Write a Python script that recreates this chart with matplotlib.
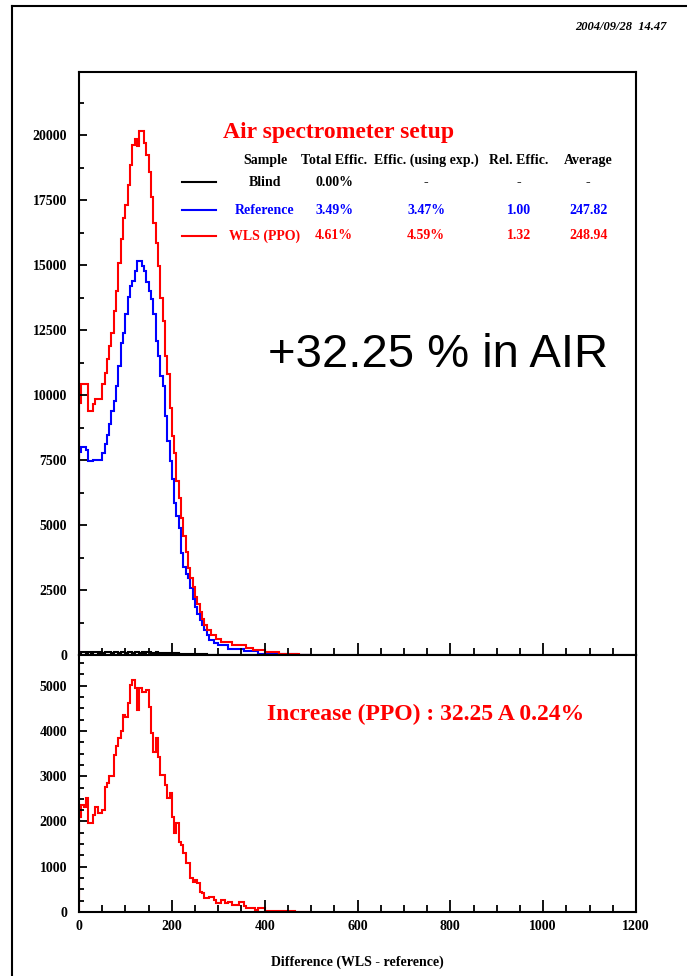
import numpy as np
import matplotlib
matplotlib.use("Agg")
from matplotlib import pyplot as plt
from matplotlib.lines import Line2D
from matplotlib.ticker import MultipleLocator

# histogram contents, bins of width 5 starting at 0
BIN_WIDTH = 5
NBINS = 100

reference = [7800, 8000, 8000, 7900, 7450, 7450, 7500, 7520, 7520, 7520,
             7770, 8100, 8480, 8870, 9380, 9770, 10350, 11120, 12020, 12400,
             13110, 13760, 14210, 14400, 14790, 15170, 15170, 14980, 14790, 14340,
             14010, 13710, 13110, 12085, 11500, 10730, 10350, 9190, 8220, 7450,
             6760, 5840, 5330, 4880, 3910, 3400, 3100, 2950, 2560, 2170,
             1850, 1590, 1340, 1150, 950, 760, 590, 590, 470, 470,
             370, 370, 370, 370, 240, 240, 240, 240, 240, 240,
             240, 140, 140, 140, 140, 140, 140, 50, 50, 50,
             50, 50, 50, 50, 50, 50, 20, 20, 20, 20,
             20, 20, 20, 20]

wls_ppo = [9700, 10420, 10420, 10420, 9400, 9400, 9650, 9850, 9850, 9850,
           10420, 10850, 11390, 11890, 12390, 13240, 14010, 15100, 16020, 16800,
           17300, 18070, 18840, 19610, 19850, 19570, 20150, 20150, 19690, 19230,
           18570, 17610, 16640, 15870, 14980, 13750, 12860, 11510, 10810, 9500,
           8420, 7770, 6680, 6030, 5260, 4560, 3980, 3330, 2950, 2630,
           2240, 1980, 1660, 1400, 1150, 950, 950, 760, 760, 630,
           630, 500, 500, 500, 500, 500, 370, 370, 370, 370,
           370, 370, 280, 280, 280, 180, 180, 180, 180, 180,
           120, 120, 120, 120, 120, 120, 50, 50, 50, 50,
           30, 30, 30, 30, 30]

blind = [90, 110, 100, 80, 120, 90, 100, 110, 80, 100,
         90, 120, 100, 110, 90, 100, 120, 80, 100, 110,
         90, 100, 120, 90, 110, 100, 80, 100, 90, 110,
         100, 80, 90, 100, 80, 90, 70, 80, 60, 70,
         60, 50, 60, 40, 50, 40, 30, 40, 30, 20,
         30, 20, 20, 10, 20, 10]

increase = [2110, 2370, 2330, 2520, 1960, 1960, 2150, 2330, 2180, 2180,
            2260, 2770, 2850, 3010, 3010, 3470, 3670, 3840, 3990, 4360,
            4320, 4610, 5020, 5130, 4950, 4470, 4950, 4870, 4870, 4910,
            4540, 3950, 3540, 3840, 3430, 3030, 3030, 2810, 2520, 2620,
            2110, 1740, 1960, 1550, 1480, 1300, 1090, 1090, 740, 670,
            700, 635, 450, 430, 300, 300, 340, 340, 265, 190,
            190, 265, 265, 190, 230, 230, 155, 155, 155, 230,
            230, 130, 95, 95, 95, 95, 44, 95, 95, 95,
            30, 30, 30, 30, 30, 30, 25, 25, 25, 25,
            25, 25, 25]

x_ticks = [0, 200, 400, 600, 800, 1000, 1200]

table_header = ["Sample", "Total Effic.", "Effic. (using exp.)", "Rel. Effic.", "Average"]
table_rows = [
    ("Blind", "0.00%", "-", "-", "-"),
    ("Reference", "3.49%", "3.47%", "1.00", "247.82"),
    ("WLS (PPO)", "4.61%", "4.59%", "1.32", "248.94"),
]
row_colors = ["black", "blue", "red"]


def padded(vals):
    return np.array(vals + [0] * (NBINS - len(vals)), dtype=float)


edges = np.arange(NBINS + 1) * BIN_WIDTH

plt.rcParams["font.family"] = ["Liberation Serif", "DejaVu Serif"]
plt.rcParams["font.weight"] = "bold"

fig = plt.figure(figsize=(6.87, 9.76), dpi=100)
ax1 = fig.add_axes([0.115, 0.3289, 0.8108, 0.5973])
ax2 = fig.add_axes([0.115, 0.0656, 0.8108, 0.2633])

ax1.stairs(padded(blind), edges, baseline=0, color="black", lw=1.5)
ax1.stairs(padded(reference), edges, baseline=0, color="blue", lw=1.5)
ax1.stairs(padded(wls_ppo), edges, baseline=0, color="red", lw=1.5)
ax2.stairs(padded(increase), edges, baseline=0, color="red", lw=1.5)

ax1.set_ylim(0, 22430)
ax2.set_ylim(0, 5680)
for ax in (ax1, ax2):
    ax.set_xlim(0, 1200)
    ax.xaxis.set_major_locator(MultipleLocator(200))
    ax.xaxis.set_minor_locator(MultipleLocator(50))
    ax.tick_params(axis="x", which="major", direction="in", length=8.5, width=1.3, pad=6)
    ax.tick_params(axis="x", which="minor", direction="in", length=5, width=1.3)
    ax.tick_params(axis="y", which="major", direction="in", length=6, width=1.3, pad=8.5)
    ax.tick_params(axis="y", which="minor", direction="in", length=3.6, width=1.3)
    ax.tick_params(top=False, right=False, labelsize=10)
    for s in ax.spines.values():
        s.set_linewidth(1.5)
ax1.yaxis.set_major_locator(MultipleLocator(2500))
ax1.yaxis.set_minor_locator(MultipleLocator(1250))
ax2.yaxis.set_major_locator(MultipleLocator(1000))
ax2.yaxis.set_minor_locator(MultipleLocator(250))
ax1.set_xticklabels([])
ax2.set_xticks(x_ticks)
ax2.set_xlabel("Difference (WLS - reference)", fontsize=10, fontweight="bold", labelpad=16)

# title and table
ax1.text(0.466, 0.897, "Air spectrometer setup", transform=ax1.transAxes, color="red",
         fontsize=17, fontweight="bold", ha="center", va="center")
col_x = [0.334, 0.458, 0.623, 0.790, 0.914]
row_y = [0.811, 0.763, 0.719]
for cx, h in zip(col_x, table_header):
    ax1.text(cx, 0.849, h, transform=ax1.transAxes, fontsize=10, fontweight="bold",
             ha="center", va="center")
for ry, row, c in zip(row_y, table_rows, row_colors):
    ax1.add_line(Line2D([0.185, 0.246], [ry, ry], transform=ax1.transAxes, color=c, lw=1.5))
    for cx, val in zip(col_x, row):
        ax1.text(cx, ry, val, transform=ax1.transAxes, color=c, fontsize=10,
                 fontweight="bold", ha="center", va="center")

ax1.text(0.645, 0.515, "+32.25 % in AIR", transform=ax1.transAxes, fontsize=34,
         family="Liberation Sans", fontweight="normal", ha="center", va="center")

ax2.text(0.622, 0.767, "Increase (PPO) : 32.25 A 0.24%", transform=ax2.transAxes,
         color="red", fontsize=17, fontweight="bold", ha="center", va="center")

fig.text(621 / 687, 1 - 27 / 976, "2004/09/28  14.47", fontsize=9, fontweight="bold",
         style="italic", ha="center", va="center")

# page frame
fig.add_artist(Line2D([12 / 687, 1], [1 - 6 / 976, 1 - 6 / 976], transform=fig.transFigure,
                      color="black", lw=1.5))
fig.add_artist(Line2D([12 / 687, 12 / 687], [0, 1 - 6 / 976], transform=fig.transFigure,
                      color="black", lw=1.5))

fig.savefig("out.png", dpi=100)
